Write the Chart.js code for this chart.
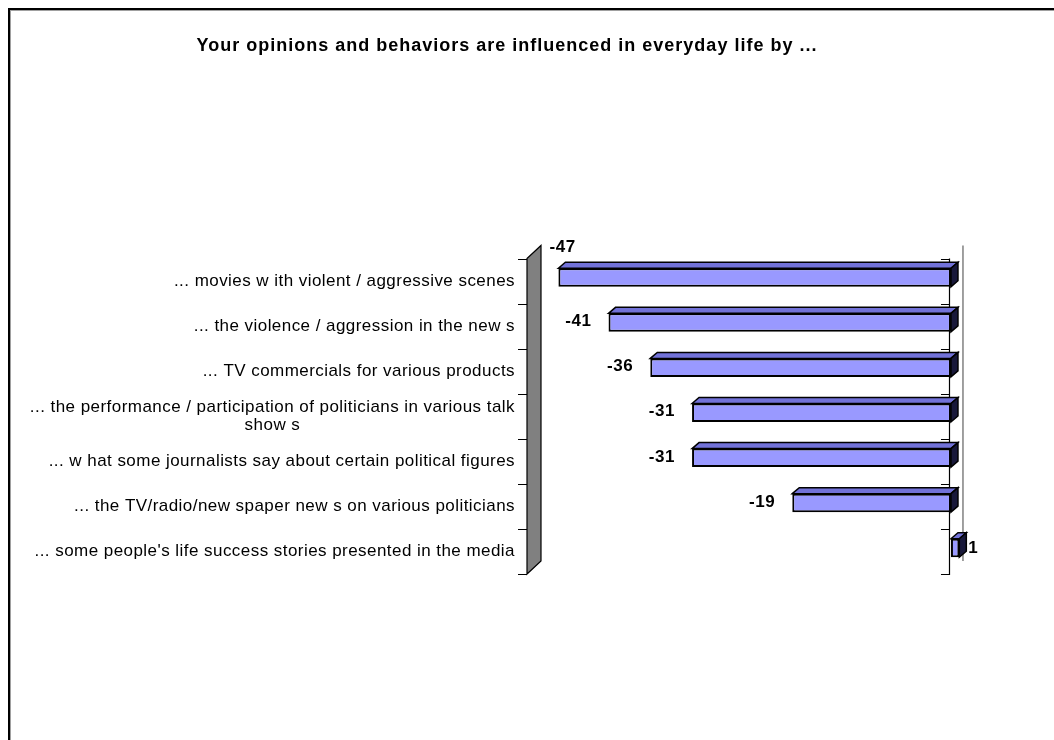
<!DOCTYPE html>
<html>
<head>
<meta charset="utf-8">
<title>Influences in everyday life</title>
<script src="https://cdn.jsdelivr.net/npm/chart.js@4.4.1/dist/chart.umd.min.js"></script>
<style>
    html, body { margin: 0; padding: 0; background: #ffffff; }
    canvas { display: block; }
</style>
</head>
<body>
<canvas id="barChart" width="1054" height="740"></canvas>
<script>
const chartTitle = "Your opinions and behaviors are influenced in everyday life by ...";

// one entry per row, extra strings are wrapped lines
const categories = [
    ["... movies w ith violent / aggressive scenes"],
    ["... the violence / aggression in the new s"],
    ["... TV commercials for various products"],
    ["... the performance / participation of politicians in various talk", "show s"],
    ["... w hat some journalists say about certain political figures"],
    ["... the TV/radio/new spaper new s on various politicians"],
    ["... some people's life success stories presented in the media"]
];

const scores = [-47, -41, -36, -31, -31, -19, 1];

const valueMin = -51;
const valueMax = 1.5;

const FONT = 'Arial, "Liberation Sans", sans-serif';
const DEPTH_X = 7;
const DEPTH_Y = -6;
const WALL_DX = 14;
const WALL_DY = -13;

/* ---------------------------
   Helpers
---------------------------- */
function rowBounds(chart) {
    const yScale = chart.scales.y;
    const step = (chart.chartArea.bottom - chart.chartArea.top) / categories.length;
    const bounds = [];
    for (let i = 0; i <= categories.length; i++) {
        bounds.push(yScale.getPixelForValue(i) - step / 2 + 3.5);
    }
    return bounds;
}

function polygon(ctx, pts, fill, stroke, width = 1) {
    ctx.beginPath();
    ctx.moveTo(pts[0][0], pts[0][1]);
    for (let i = 1; i < pts.length; i++) ctx.lineTo(pts[i][0], pts[i][1]);
    ctx.closePath();
    ctx.fillStyle = fill;
    ctx.fill();
    ctx.strokeStyle = stroke;
    ctx.lineWidth = width;
    ctx.stroke();
}

/* ---------------------------
   Wall, axes, 3D faces, text
---------------------------- */
const chartDecor = {
    id: "chartDecor",

    beforeDatasetsDraw(chart) {
        const ctx = chart.ctx;
        const area = chart.chartArea;
        const bounds = rowBounds(chart);
        const top = bounds[0];
        const bottom = bounds[bounds.length - 1];
        const wallX = area.left + 2;
        const zeroX = chart.scales.x.getPixelForValue(0) - 2;

        ctx.save();

        // back edge on the right
        ctx.strokeStyle = "#808080";
        ctx.lineWidth = 1.5;
        ctx.beginPath();
        ctx.moveTo(zeroX + WALL_DX, top + WALL_DY);
        ctx.lineTo(zeroX + WALL_DX, bottom + WALL_DY);
        ctx.stroke();

        // grey side wall
        polygon(ctx, [
            [wallX, top],
            [wallX + WALL_DX, top + WALL_DY],
            [wallX + WALL_DX, bottom + WALL_DY],
            [wallX, bottom]
        ], "#808080", "#000000", 1.2);

        // category ticks on both sides + zero axis line
        ctx.strokeStyle = "#000000";
        ctx.lineWidth = 1.2;
        ctx.beginPath();
        bounds.forEach(y => {
            const yy = Math.round(y) + 0.5;
            ctx.moveTo(wallX - 9, yy);
            ctx.lineTo(wallX, yy);
            ctx.moveTo(zeroX - 8, yy);
            ctx.lineTo(zeroX, yy);
        });
        ctx.moveTo(Math.round(zeroX) + 0.5, top);
        ctx.lineTo(Math.round(zeroX) + 0.5, bottom + 1);
        ctx.stroke();

        ctx.restore();
    },

    afterDatasetsDraw(chart) {
        const ctx = chart.ctx;
        const area = chart.chartArea;
        const meta = chart.getDatasetMeta(0);

        ctx.save();
        meta.data.forEach(bar => {
            const x0 = Math.min(bar.x, bar.base);
            const x1 = Math.max(bar.x, bar.base);
            const y0 = bar.y - bar.height / 2;
            const y1 = bar.y + bar.height / 2;

            // top face
            polygon(ctx, [
                [x0, y0], [x0 + DEPTH_X, y0 + DEPTH_Y],
                [x1 + DEPTH_X, y0 + DEPTH_Y], [x1, y0]
            ], "#7272d8", "#000000", 1.5);

            // right face
            polygon(ctx, [
                [x1, y0], [x1 + DEPTH_X, y0 + DEPTH_Y],
                [x1 + DEPTH_X, y1 + DEPTH_Y], [x1, y1]
            ], "#18183a", "#000000", 1.5);
        });

        // value labels
        ctx.font = `bold 17px ${FONT}`;
        ctx.letterSpacing = "0.6px";
        ctx.fillStyle = "#000000";
        ctx.textBaseline = "middle";
        meta.data.forEach((bar, i) => {
            const v = scores[i];
            const text = String(v);
            const x0 = Math.min(bar.x, bar.base);
            const x1 = Math.max(bar.x, bar.base);
            const w = ctx.measureText(text).width;

            if (v >= 0) {
                ctx.textAlign = "left";
                ctx.fillText(text, x1 + DEPTH_X + 2, bar.y);
            } else if (x0 - 18 - w < area.left + 20) {
                ctx.textAlign = "left";
                ctx.fillText(text, x0 - 9, bar.y - 30);
            } else {
                ctx.textAlign = "right";
                ctx.fillText(text, x0 - 17, bar.y - 1);
            }
        });
        ctx.restore();
    },

    afterDraw(chart) {
        const ctx = chart.ctx;
        const bounds = rowBounds(chart);
        const labelRight = chart.chartArea.left - 10;

        ctx.save();
        ctx.fillStyle = "#000000";
        ctx.textBaseline = "middle";

        // title
        ctx.font = `bold 18px ${FONT}`;
        ctx.letterSpacing = "1px";
        ctx.textAlign = "center";
        ctx.fillText(chartTitle, 507, 46);

        // category labels, wrapped lines centred under the first one
        ctx.font = `17px ${FONT}`;
        ctx.letterSpacing = "0.45px";
        const lineH = 18;
        categories.forEach((lines, i) => {
            const mid = (bounds[i] + bounds[i + 1]) / 2;
            const firstY = mid - (lines.length - 1) * lineH / 2;
            const firstW = ctx.measureText(lines[0]).width;
            lines.forEach((line, j) => {
                if (j === 0) {
                    ctx.textAlign = "right";
                    ctx.fillText(line, labelRight, firstY);
                } else {
                    ctx.textAlign = "center";
                    ctx.fillText(line, labelRight - firstW / 2, firstY + j * lineH);
                }
            });
        });

        // outer frame
        ctx.letterSpacing = "0px";
        ctx.strokeStyle = "#000000";
        ctx.lineWidth = 2;
        ctx.strokeRect(9, 9, 1100, 800);
        ctx.strokeStyle = "#a0a0a0";
        ctx.lineWidth = 1;
        ctx.beginPath();
        ctx.moveTo(10.5, 10);
        ctx.lineTo(10.5, 740);
        ctx.moveTo(10, 10.5);
        ctx.lineTo(1054, 10.5);
        ctx.stroke();

        ctx.restore();
    }
};

/* ---------------------------
   Chart
---------------------------- */
const ctx = document.getElementById("barChart").getContext("2d");

new Chart(ctx, {
    type: "bar",
    data: {
        labels: categories,
        datasets: [{
            data: scores,
            backgroundColor: "#9999ff",
            borderColor: "#000000",
            borderWidth: 2,
            borderSkipped: false,
            categoryPercentage: 1,
            barPercentage: 0.41
        }]
    },
    options: {
        indexAxis: "y",
        responsive: false,
        animation: false,
        devicePixelRatio: 1,
        layout: {
            padding: { left: 525, top: 255, right: 90.5, bottom: 169.5 }
        },
        scales: {
            x: { display: false, min: valueMin, max: valueMax },
            y: { display: false }
        },
        plugins: {
            legend: { display: false },
            title: { display: false },
            tooltip: { enabled: false }
        }
    },
    plugins: [
        {
            id: "whiteBackground",
            beforeDraw(chart) {
                chart.ctx.save();
                chart.ctx.fillStyle = "#ffffff";
                chart.ctx.fillRect(0, 0, chart.width, chart.height);
                chart.ctx.restore();
            }
        },
        chartDecor
    ]
});
</script>
</body>
</html>
